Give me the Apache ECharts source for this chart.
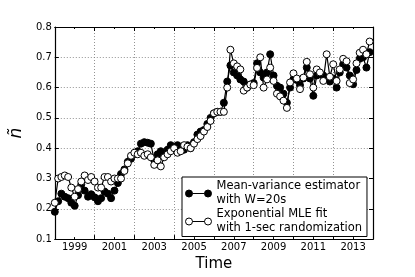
<!DOCTYPE html>
<html><head><meta charset="utf-8">
<script src="https://cdn.jsdelivr.net/npm/echarts@6/dist/echarts.min.js"></script>
<style>html,body{margin:0;padding:0;background:#fff}#c{width:415px;height:277px}</style>
</head><body><div id="c"></div>
<script>
const times = [
1998.00,1998.17,1998.33,1998.50,1998.67,1998.83,
1999.00,1999.17,1999.33,1999.50,1999.67,1999.83,
2000.00,2000.17,2000.33,2000.50,2000.67,2000.83,
2001.00,2001.17,2001.33,2001.50,2001.67,2001.83,
2002.00,2002.17,2002.33,2002.50,2002.67,2002.83,
2003.00,2003.17,2003.33,2003.50,2003.67,2003.83,
2004.00,2004.17,2004.33,2004.50,2004.67,2004.83,
2005.00,2005.17,2005.33,2005.50,2005.67,2005.83,
2006.00,2006.17,2006.33,2006.50,2006.67,2006.83,
2007.00,2007.17,2007.33,2007.50,2007.67,2007.83,
2008.00,2008.17,2008.33,2008.50,2008.67,2008.83,
2009.00,2009.17,2009.33,2009.50,2009.67,2009.83,
2010.00,2010.17,2010.33,2010.50,2010.67,2010.83,
2011.00,2011.17,2011.33,2011.50,2011.67,2011.83,
2012.00,2012.17,2012.33,2012.50,2012.67,2012.83,
2013.00,2013.17,2013.33,2013.50,2013.67,2013.83];
const meanVariance = [
0.19,0.225,0.25,0.24,0.235,0.22,
0.21,0.245,0.28,0.26,0.24,0.248,
0.238,0.225,0.235,0.257,0.25,0.235,
0.26,0.285,0.315,0.33,0.355,0.365,
0.38,0.39,0.415,0.42,0.418,0.415,
0.36,0.38,0.39,0.375,0.395,0.41,
0.40,0.41,0.40,0.395,0.41,0.40,
0.42,0.445,0.455,0.46,0.48,0.50,
0.515,0.52,0.52,0.55,0.62,0.673,
0.65,0.64,0.627,0.62,0.60,0.61,
0.615,0.68,0.65,0.633,0.65,0.71,
0.64,0.606,0.60,0.58,0.55,0.60,
0.628,0.625,0.608,0.63,0.666,0.63,
0.573,0.64,0.645,0.64,0.63,0.62,
0.63,0.60,0.65,0.677,0.666,0.64,
0.611,0.658,0.695,0.70,0.666,0.717];
const expMLE = [
0.22,0.30,0.305,0.31,0.305,0.27,
0.24,0.265,0.29,0.31,0.295,0.305,
0.29,0.27,0.27,0.305,0.305,0.29,
0.30,0.30,0.30,0.325,0.35,0.375,
0.385,0.38,0.385,0.375,0.38,0.37,
0.345,0.36,0.34,0.37,0.38,0.39,
0.40,0.385,0.39,0.41,0.405,0.40,
0.415,0.43,0.44,0.455,0.47,0.49,
0.515,0.52,0.52,0.52,0.60,0.725,
0.68,0.67,0.66,0.59,0.60,0.61,
0.608,0.665,0.70,0.60,0.627,0.666,
0.622,0.58,0.571,0.557,0.533,0.617,
0.647,0.63,0.595,0.633,0.685,0.644,
0.60,0.66,0.65,0.622,0.71,0.636,
0.677,0.622,0.66,0.695,0.687,0.615,
0.627,0.68,0.715,0.725,0.71,0.752];
const seriesNames = ['Mean-variance estimator\nwith W=20s', 'Exponential MLE fit\nwith 1-sec randomization'];
const yTicks = [0.1,0.2,0.3,0.4,0.5,0.6,0.7,0.8];
const xLabel = 'Time';
const yLabel = 'ñ';

const chart = echarts.init(document.getElementById('c'), null, {renderer:'canvas'});
const FONT = 'DejaVu Sans';
const grid = {left:52, right:42, top:27, bottom:35};
const icon = 'path://M0,4a3.5,3.5 0 1,0 7,0a3.5,3.5 0 1,0 -7,0zM7,4L19,4M19,4a3.5,3.5 0 1,0 7,0a3.5,3.5 0 1,0 -7,0z';
const gridLine = {show:true, lineStyle:{color:'#777', type:[1,2], width:0.8}};
function yearAxis(pos, labels, name){
  return {type:'value', position:pos, min:1998, max:2014, interval:1,
    axisLine:{show:true, onZero:false, lineStyle:{color:'#000', width:1.2}},
    axisTick:{show:true, inside:true, length:2, lineStyle:{color:'#000'}},
    axisLabel:{show:labels, margin:3, fontSize:10, color:'#000', fontFamily:FONT,
      formatter:v => (Math.round(v)%2===1 ? String(Math.round(v)) : '')},
    splitLine:{show:false},
    name:name||'', nameLocation:'middle', nameGap:15,
    nameTextStyle:{fontSize:15, color:'#000', fontFamily:FONT}};
}
function majorAxis(pos, split){
  return {type:'value', position:pos, min:-1, max:15, interval:2,
    axisLine:{show:false, onZero:false}, axisLabel:{show:false},
    axisTick:{show:true, inside:true, length:4, lineStyle:{color:'#000'}},
    splitLine: split ? gridLine : {show:false}};
}
const option = {
  animation:false,
  textStyle:{fontFamily:FONT},
  grid: grid,
  legend:{
    orient:'vertical', left:182, top:177, padding:[2.5,5,1,3], itemGap:0,
    itemWidth:26, itemHeight:7,
    backgroundColor:'#fff', borderColor:'#000', borderWidth:1, borderRadius:0,
    textStyle:{fontSize:11.5, lineHeight:14, color:'#000', fontFamily:FONT},
    itemStyle:{borderWidth:1},
    data:[{name:seriesNames[0], icon:icon},{name:seriesNames[1], icon:icon}]
  },
  xAxis:[yearAxis('bottom', true, xLabel), yearAxis('top', false), majorAxis('bottom', true), majorAxis('top', false)],
  yAxis:[
    {type:'value', position:'left', min:yTicks[0], max:yTicks[yTicks.length-1], interval:0.1,
     axisLine:{show:true, onZero:false, lineStyle:{color:'#000', width:1.2}},
     axisTick:{show:true, inside:true, length:4, lineStyle:{color:'#000'}},
     axisLabel:{margin:3, fontSize:10, color:'#000', fontFamily:FONT, formatter:v=>v.toFixed(1)},
     splitLine:gridLine,
     name:yLabel, nameLocation:'middle', nameRotate:90, nameGap:24,
     nameTextStyle:{fontSize:17, fontStyle:'italic', color:'#000', fontFamily:FONT}},
    {type:'value', position:'right', min:yTicks[0], max:yTicks[yTicks.length-1], interval:0.1,
     axisLine:{show:true, onZero:false, lineStyle:{color:'#000', width:1.2}},
     axisTick:{show:true, inside:true, length:4, lineStyle:{color:'#000'}},
     axisLabel:{show:false}, splitLine:{show:false}}
  ],
  series:[
    {name:seriesNames[0], type:'line', xAxisIndex:0, yAxisIndex:0,
     data: times.map((t,i)=>[t, meanVariance[i]]),
     symbol:'circle', symbolSize:7, showAllSymbol:true,
     lineStyle:{color:'#000', width:1.2},
     itemStyle:{color:'#000', borderColor:'#000', borderWidth:1}},
    {name:seriesNames[1], type:'line', xAxisIndex:0, yAxisIndex:0,
     data: times.map((t,i)=>[t, expMLE[i]]),
     symbol:'circle', symbolSize:7, showAllSymbol:true,
     lineStyle:{color:'#000', width:1.2},
     itemStyle:{color:'#fff', borderColor:'#000', borderWidth:1}}
  ]
};
chart.setOption(option);
</script></body></html>
